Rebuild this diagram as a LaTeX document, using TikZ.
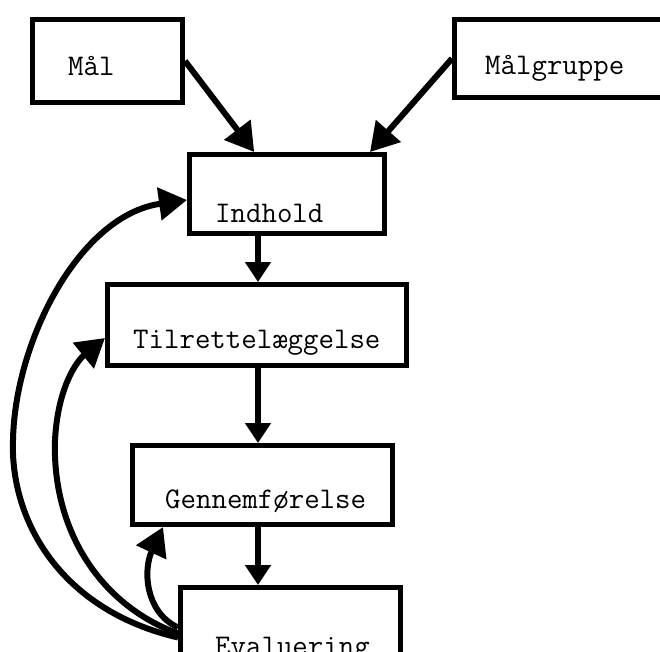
\documentclass[tikz,border=0pt]{standalone}
\usepackage{fontspec}
\usetikzlibrary{arrows.meta,calc}
\tikzset{
  box/.style={draw, rectangle, line width=5pt, inner sep=0pt},
  lbl/.style={anchor=base west, inner sep=0pt, font=\ttfamily\fontsize{30}{36}\selectfont},
  flow/.style={line width=6pt, -{Triangle[length=28pt,width=32pt]}},
  flowshort/.style={line width=6pt, -{Triangle[length=20pt,width=25pt]}}
}
\begin{document}
\begin{tikzpicture}[x=1pt,y=-1pt]
  \useasboundingbox (0,0) rectangle (660,651);
  \clip (0,0) rectangle (660,651);

  % boxes
  \node[box, minimum width=150pt, minimum height=83pt] (mal)     at (107.5,61) {};
  \node[box, minimum width=245pt, minimum height=78pt] (malgr)   at (577,58.5) {};
  \node[box, minimum width=195pt, minimum height=79pt] (indhold) at (287,194) {};
  \node[box, minimum width=299pt, minimum height=81pt] (tilr)    at (257,325) {};
  \node[box, minimum width=260pt, minimum height=79pt] (genn)    at (262.5,485) {};
  \node[box, minimum width=220pt, minimum height=80pt] (eval)    at (290.5,627.5) {};

  % box texts
  \node[lbl] (malT)     at (68,75)   {Mål};
  \node[lbl] (malgrT)   at (485,74)  {Målgruppe};
  \node[lbl] (indholdT) at (215,222) {Indhold};
  \node[lbl] (tilrT)    at (133,348) {Tilrettelæggelse};
  \node[lbl] (gennT)    at (165,508) {Gennemførelse};
  \node[lbl] (evalT)    at (215,655) {Evaluering};

  % inputs to the content box
  \draw[flow] (mal.east) -- ($(indhold.north west)!0.336!(indhold.north east)$);
  \draw[flow] (malgr.west) -- ($(indhold.north west)!0.915!(indhold.north east)$);

  % main sequence
  \coordinate (col) at (258,0);
  \draw[flowshort] (indhold.south -| col) -- (tilr.north -| col);
  \draw[flowshort] (tilr.south -| col) -- (genn.north -| col);
  \draw[flowshort] (genn.south -| col) -- (eval.north -| col);

  % feedback loops from the evaluation
  \coordinate (outer) at (13,440);
  \coordinate (inner) at (55,440);
  \coordinate (sc) at (163,0);
  \draw[flow] ([yshift=-10pt]eval.west)
      .. controls (60,610) and (10,520) .. (outer)
      .. controls (15,340) and (80,215) .. ([yshift=-6pt]indhold.west);
  \draw[flow] ([yshift=-6pt]eval.west)
      .. controls (100,605) and (52,530) .. (inner)
      .. controls (58,385) and (78,360) .. ([yshift=-13pt]tilr.west);
  \draw[flow] (eval.west)
      .. controls (145,612) and (143,570) .. (genn.south -| sc);
\end{tikzpicture}
\end{document}
